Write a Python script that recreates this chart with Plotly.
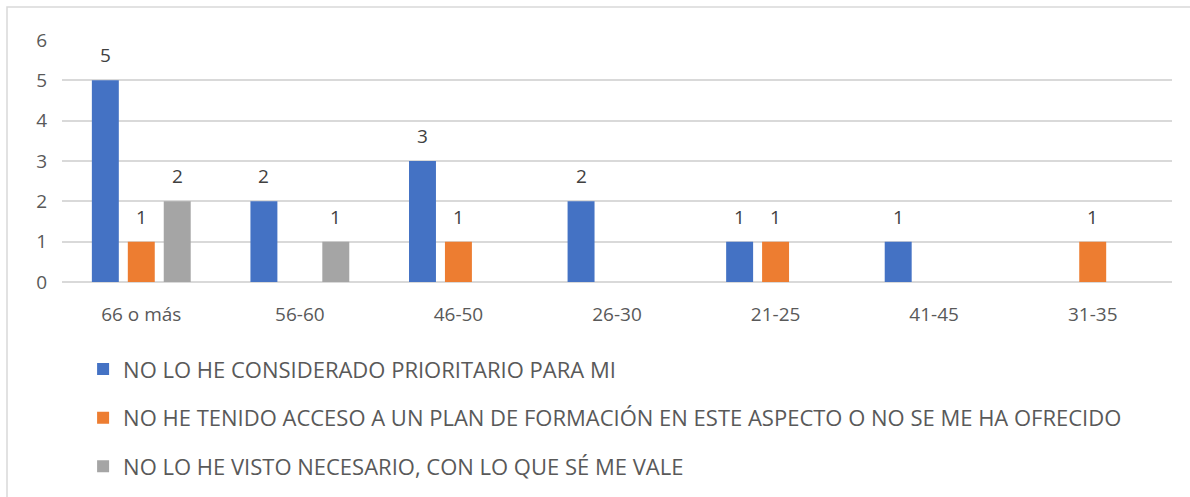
import plotly.graph_objects as go

categories = ["66 o más", "56-60", "46-50", "26-30", "21-25", "41-45", "31-35"]
series_names = [
    "NO LO HE CONSIDERADO PRIORITARIO PARA MI",
    "NO HE TENIDO ACCESO A UN PLAN DE FORMACIÓN EN ESTE ASPECTO O NO SE ME HA OFRECIDO",
    "NO LO HE VISTO NECESARIO, CON LO QUE SÉ ME VALE",
]
prioritario = [5, 2, 3, 2, 1, 1, 0]
sin_acceso = [1, 0, 1, 0, 1, 0, 1]
no_necesario = [2, 1, 0, 0, 0, 0, 0]
series_values = [prioritario, sin_acceso, no_necesario]
colors = ["#4472C4", "#ED7D31", "#A5A5A5"]

FONT = "Open Sans"
TEXT_COLOR = "#595959"

fig = go.Figure()
for i, (name, vals, col) in enumerate(zip(series_names, series_values, colors)):
    fig.add_trace(go.Bar(
        x=categories, y=vals, name=name, marker_color=col,
        marker_line_width=0, legendgroup=f"g{i}",
    ))

# value labels above every non-zero bar, shifted to its slot in the group
slot_px = 36
for i, vals in enumerate(series_values):
    for cat, v in zip(categories, vals):
        if v:
            fig.add_annotation(
                x=cat, y=v, text=str(v), showarrow=False,
                xshift=(i - 1) * slot_px, yshift=25, yanchor="middle",
                font=dict(family=FONT, size=19, color="#404040"),
            )

fig.update_layout(
    width=1190, height=497,
    margin=dict(l=62, r=18, t=40, b=215, autoexpand=False),
    paper_bgcolor="white", plot_bgcolor="white",
    barmode="group", bargap=0.32, bargroupgap=0.25,
    font=dict(family=FONT, size=16, color=TEXT_COLOR),
    showlegend=True,
    legend=dict(
        orientation="v", x=0.019, xanchor="left", y=-0.274, yanchor="top",
        font=dict(family=FONT, size=22, color=TEXT_COLOR),
        tracegroupgap=17, itemclick=False,
    ),
    shapes=[dict(
        type="rect", xref="paper", yref="paper",
        x0=-55 / 1110, x1=1.02, y0=-1.1, y1=1 + 33 / 242,
        line=dict(color="#D9D9D9", width=1.5), layer="below",
    )],
)
fig.update_xaxes(
    showgrid=False, showline=False, zeroline=False, ticks="",
    ticklabelstandoff=19, tickfont=dict(size=19, color=TEXT_COLOR),
)
fig.update_yaxes(
    range=[0, 6], dtick=1, showgrid=True, gridcolor="#D9D9D9", gridwidth=1.5,
    zeroline=True, zerolinecolor="#D9D9D9", zerolinewidth=1.5,
    showline=False, ticks="", ticklabelstandoff=14,
    tickfont=dict(size=19, color=TEXT_COLOR),
)

fig.write_html("out.html")
